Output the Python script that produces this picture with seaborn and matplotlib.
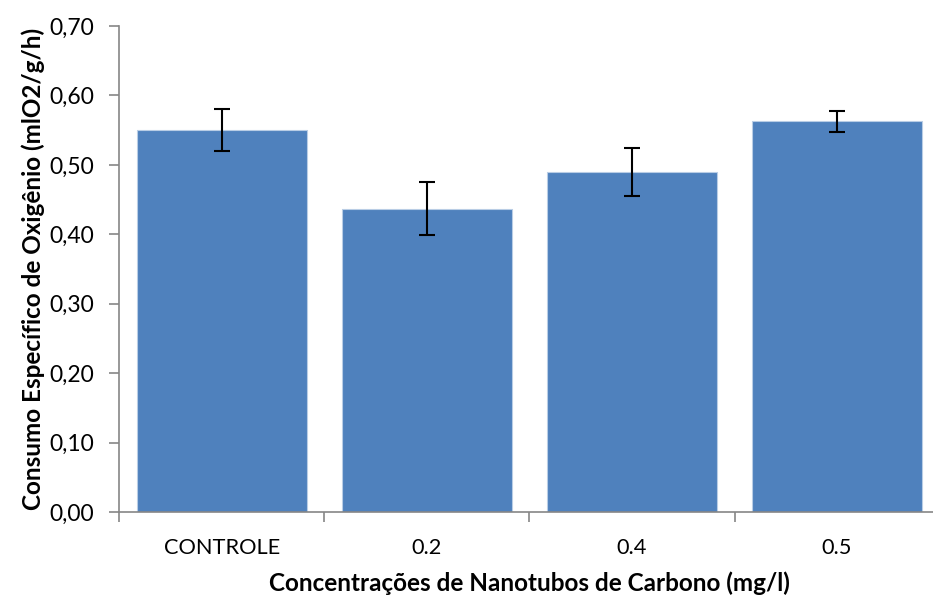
import matplotlib
matplotlib.use("Agg")
import matplotlib.pyplot as plt
from matplotlib.ticker import FixedLocator, FuncFormatter
import seaborn as sns
import pandas as pd

# Oxygen consumption per carbon-nanotube concentration
categorias = ["CONTROLE", "0.2", "0.4", "0.5"]
consumo = [0.550, 0.437, 0.490, 0.563]
desvio = [0.030, 0.038, 0.035, 0.015]

df = pd.DataFrame({"concentracao": categorias, "consumo": consumo})

sns.set_theme(style="white")
plt.rcParams["font.family"] = ["Lato", "DejaVu Sans"]
plt.rcParams["text.color"] = "black"
plt.rcParams["axes.labelcolor"] = "black"

fig = plt.figure(figsize=(9.33, 5.99), dpi=100)
ax = fig.add_axes([0.128, 0.1452, 0.879, 0.8114])

sns.barplot(data=df, x="concentracao", y="consumo", order=categorias,
            color="#4F81BD", saturation=1, width=0.83,
            edgecolor="#B9CDE5", linewidth=0.8, errorbar=None, ax=ax)

ax.errorbar(range(len(categorias)), consumo, yerr=desvio, fmt="none",
            ecolor="black", elinewidth=1.5, capsize=6, capthick=1.5, zorder=5)

ax.set_xlim(-0.5, len(categorias) - 0.5)
ax.set_ylim(0, 0.70)
ax.set_yticks([i / 10 for i in range(8)])
ax.yaxis.set_major_formatter(FuncFormatter(lambda v, p: f"{v:.2f}".replace(".", ",")))

# category separators as tick marks, labels centred without marks
ax.xaxis.set_minor_locator(FixedLocator([i - 0.5 for i in range(len(categorias) + 1)]))
ax.tick_params(axis="x", which="major", length=0, pad=19, labelsize=15.7, labelcolor="black")
ax.tick_params(axis="x", which="minor", length=7, width=1.2, color="#868686", direction="out", bottom=True)
ax.tick_params(axis="y", which="major", length=7, width=1.2, color="#868686", direction="out",
               left=True, labelsize=16.5, pad=11, labelcolor="black")

for side in ("top", "right"):
    ax.spines[side].set_visible(False)
for side in ("left", "bottom"):
    ax.spines[side].set_color("#868686")
    ax.spines[side].set_linewidth(1.2)

ax.set_xlabel("Concentrações de Nanotubos de Carbono (mg/l)", fontsize=17.5, fontweight="bold", labelpad=9)
ax.set_ylabel("Consumo Específico de Oxigênio (mlO2/g/h)", fontsize=17.5, fontweight="bold", labelpad=3)

fig.savefig("out.png", dpi=100)
